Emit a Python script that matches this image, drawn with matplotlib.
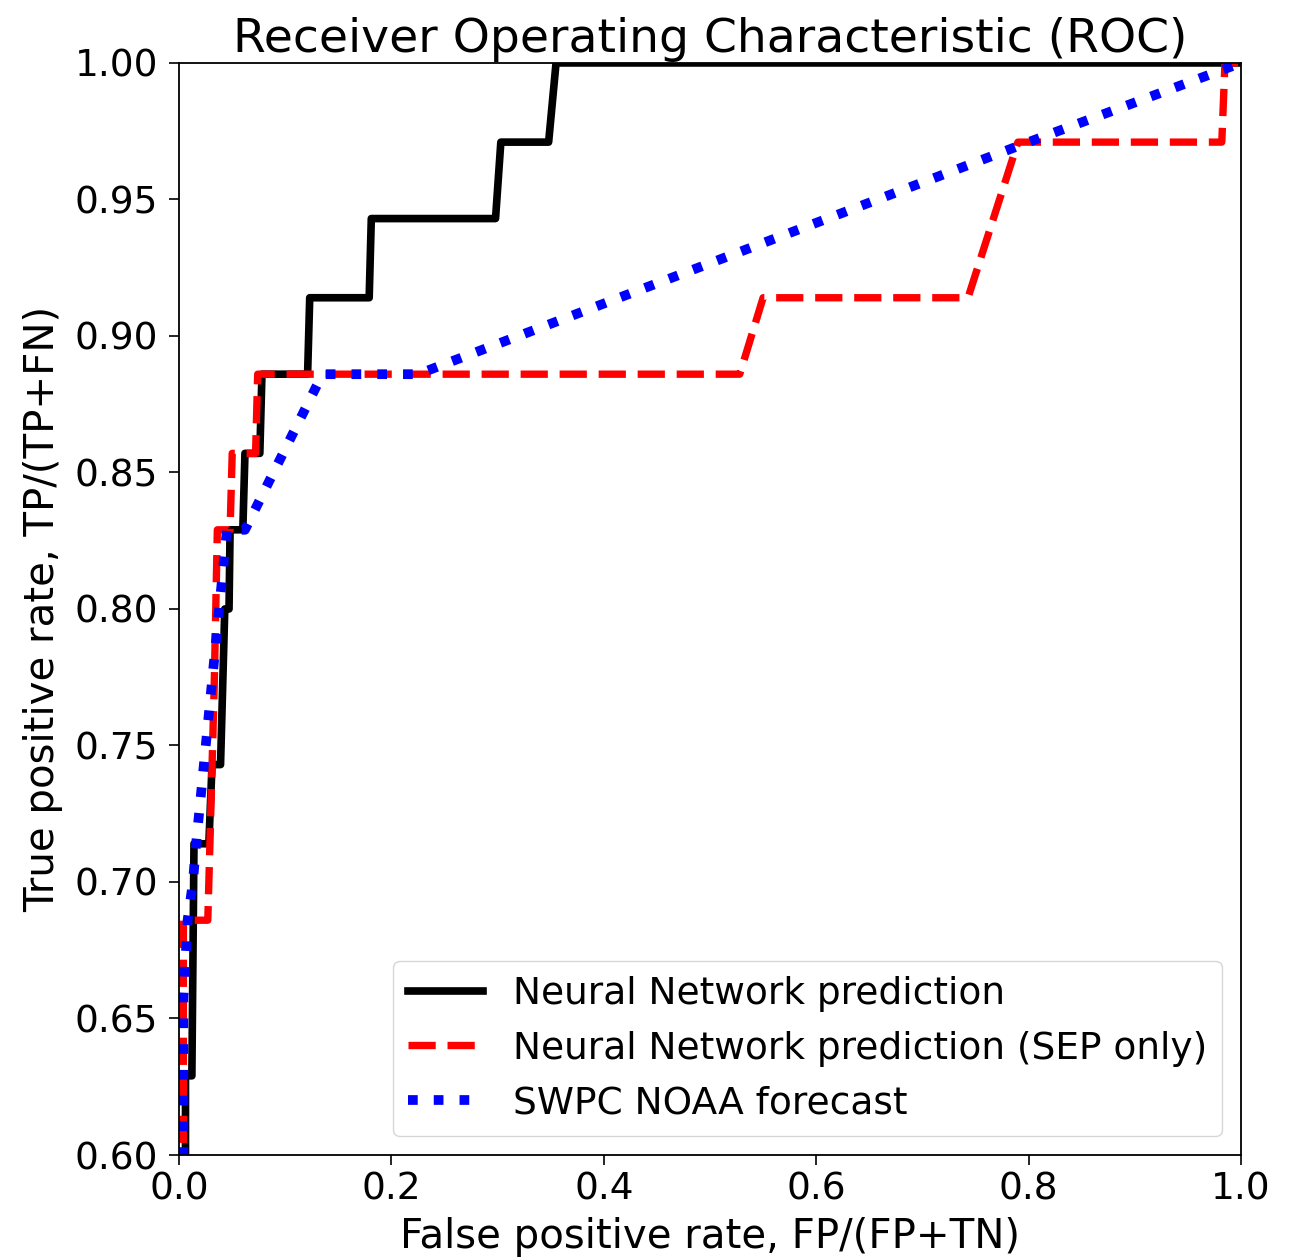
import matplotlib
matplotlib.use('Agg')
import matplotlib.pyplot as plt

# ROC curves (TPR steps are k/35)
nn_fpr = [0.0, 0.006, 0.006, 0.012, 0.014, 0.028, 0.031, 0.039, 0.043, 0.047, 0.048, 0.060, 0.062, 0.076, 0.078,
          0.121, 0.123, 0.179, 0.181, 0.298, 0.303, 0.348, 0.355, 1.0]
nn_tpr = [0.0, 0.50, 0.629, 0.629, 0.714, 0.714, 0.743, 0.743, 0.800, 0.800, 0.829, 0.829, 0.857, 0.857, 0.886,
          0.886, 0.914, 0.914, 0.943, 0.943, 0.971, 0.971, 1.0, 1.0]

sep_fpr = [0.0, 0.004, 0.004, 0.027, 0.029, 0.033, 0.036, 0.048, 0.050, 0.072, 0.074, 0.528, 0.550, 0.743,
           0.790, 0.982, 0.985, 1.0]
sep_tpr = [0.0, 0.50, 0.686, 0.686, 0.714, 0.771, 0.829, 0.829, 0.857, 0.857, 0.886, 0.886, 0.914, 0.914,
           0.971, 0.971, 1.0, 1.0]

swpc_fpr = [0.0, 0.004, 0.004, 0.008, 0.013, 0.016, 0.045, 0.062, 0.135, 0.225, 0.800, 1.0]
swpc_tpr = [0.0, 0.50, 0.657, 0.686, 0.700, 0.714, 0.829, 0.829, 0.886, 0.886, 0.971, 1.0]

fig = plt.figure(figsize=(12.98, 12.59), dpi=100)
ax = fig.add_axes([0.138, 0.0826, 0.818, 0.8674])

ax.plot(nn_fpr, nn_tpr, color='black', lw=5.5, label='Neural Network prediction')
ax.plot(sep_fpr, sep_tpr, color='red', lw=5.3, ls='--', label='Neural Network prediction (SEP only)')
ax.plot(swpc_fpr, swpc_tpr, color='blue', lw=7, ls=':', label='SWPC NOAA forecast')

ax.set_xlim(0, 1)
ax.set_ylim(0.6, 1.0)
ax.set_xticks([0.0, 0.2, 0.4, 0.6, 0.8, 1.0])
ax.set_yticks([0.60, 0.65, 0.70, 0.75, 0.80, 0.85, 0.90, 0.95, 1.00])
ax.set_yticklabels(['0.60', '0.65', '0.70', '0.75', '0.80', '0.85', '0.90', '0.95', '1.00'])
ax.tick_params(labelsize=27, width=1.2, length=7)
ax.tick_params(axis='x', pad=5)
ax.tick_params(axis='y', pad=8)
for s in ax.spines.values():
    s.set_linewidth(1.3)

ax.set_xlabel('False positive rate, FP/(FP+TN)', fontsize=29, labelpad=7)
ax.set_ylabel('True positive rate, TP/(TP+FN)', fontsize=29, labelpad=8)
ax.set_title('Receiver Operating Characteristic (ROC)', fontsize=34, pad=8)
ax.legend(loc='lower right', fontsize=27, handlelength=2.0)

fig.savefig('out.png', dpi=100)
